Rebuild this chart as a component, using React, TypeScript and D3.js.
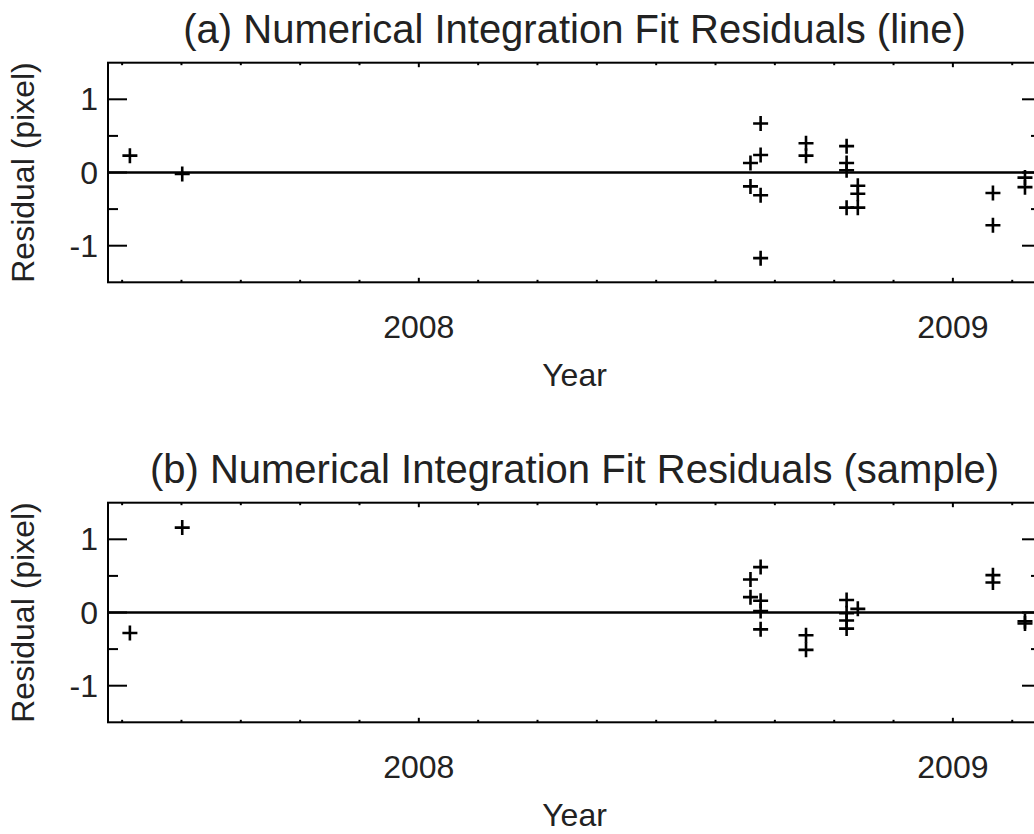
import React from 'react';
import * as d3 from 'd3';

// decimal years and residuals
const yearsLine = [2007.459, 2007.557, 2008.621, 2008.621, 2008.640, 2008.640, 2008.640, 2008.640,
  2008.725, 2008.725, 2008.801, 2008.801, 2008.801, 2008.801, 2008.822, 2008.822, 2008.822,
  2009.075, 2009.075, 2009.135, 2009.135];
const residLine = [0.23, -0.02, 0.13, -0.19, 0.67, 0.24, -0.31, -1.17,
  0.40, 0.23, 0.36, 0.13, 0.03, -0.48, -0.18, -0.29, -0.48,
  -0.28, -0.72, -0.07, -0.20];

const yearsSample = [2007.459, 2007.557, 2008.621, 2008.621, 2008.640, 2008.640, 2008.640, 2008.640,
  2008.725, 2008.725, 2008.801, 2008.801, 2008.801, 2008.801, 2008.822,
  2009.075, 2009.075, 2009.135, 2009.135];
const residSample = [-0.28, 1.16, 0.45, 0.21, 0.62, 0.16, 0.02, -0.23,
  -0.31, -0.51, 0.17, -0.01, -0.11, -0.22, 0.05,
  0.51, 0.41, -0.12, -0.15];

const titles = ['(a) Numerical Integration Fit Residuals (line)', '(b) Numerical Integration Fit Residuals (sample)'];
const yMajor = [-1, 0, 1];
const yMinor = [-0.5, 0.5];
const xMajor = [2008, 2009];
const xDomain = [2007.418, 2009.165];
const yDomain = [-1.5, 1.5];

const font = '"Liberation Sans", Arial, Helvetica, sans-serif';
const ink = '#222';

function Panel({ top, title, years, resid }) {
  const left = 108, right = 1041, height = 219.6;
  const x = d3.scaleLinear().domain(xDomain).range([left, right]);
  const y = d3.scaleLinear().domain(yDomain).range([top + height, top]);
  const xMinor = d3.range(0, 27).map(k => 2007 + k / 9)
    .filter(v => v > xDomain[0] && v < xDomain[1] && !xMajor.some(m => Math.abs(m - v) < 1e-6));
  const cx = (left + right) / 2;
  const pts = years.map((yr, i) => [x(yr), y(resid[i])]);

  return <g>
    <text x={cx} y={top - 20} textAnchor="middle" fontSize={40} fill={ink}>{title}</text>
    <rect x={left} y={top} width={right - left} height={height} fill="none" stroke="#000" strokeWidth={2} />
    <line x1={left} x2={right} y1={y(0)} y2={y(0)} stroke="#000" strokeWidth={2.5} />
    {yMajor.map(v => <g key={'ym' + v}>
      <line x1={left} x2={left + 19} y1={y(v)} y2={y(v)} stroke="#000" strokeWidth={2} />
      <line x1={right} x2={right - 19} y1={y(v)} y2={y(v)} stroke="#000" strokeWidth={2} />
      <text x={98} y={y(v) + 11} textAnchor="end" fontSize={32} fill={ink}>{v}</text>
    </g>)}
    {yMinor.map(v => <g key={'yn' + v}>
      <line x1={left} x2={left + 10} y1={y(v)} y2={y(v)} stroke="#000" strokeWidth={2} />
      <line x1={right} x2={right - 10} y1={y(v)} y2={y(v)} stroke="#000" strokeWidth={2} />
    </g>)}
    {xMajor.map(v => <g key={'xm' + v}>
      <line x1={x(v)} x2={x(v)} y1={top + height} y2={top + height - 4.5} stroke="#000" strokeWidth={2} />
      <line x1={x(v)} x2={x(v)} y1={top} y2={top + 4.5} stroke="#000" strokeWidth={2} />
      <text x={x(v)} y={top + height + 56} textAnchor="middle" fontSize={32} fill={ink}>{v}</text>
    </g>)}
    {xMinor.map(v => <g key={'xn' + v}>
      <line x1={x(v)} x2={x(v)} y1={top + height} y2={top + height - 2.5} stroke="#000" strokeWidth={2} />
      <line x1={x(v)} x2={x(v)} y1={top} y2={top + 2.5} stroke="#000" strokeWidth={2} />
    </g>)}
    <text x={cx} y={top + height + 104} textAnchor="middle" fontSize={32} fill={ink}>Year</text>
    <text transform={`translate(34,${top + height / 2}) rotate(-90)`} textAnchor="middle" fontSize={32} fill={ink}>Residual (pixel)</text>
    {pts.map((p, i) => <path key={i}
      d={`M${p[0] - 7.5},${p[1]}H${p[0] + 7.5}M${p[0]},${p[1] - 7.5}V${p[1] + 7.5}`}
      stroke="#000" strokeWidth={2.6} fill="none" />)}
  </g>;
}

export default function App() {
  return <div style={{ position: 'absolute', left: 0, top: 0 }}>
    <svg width={1034} height={834} style={{ display: 'block', background: '#fff', fontFamily: font }}>
      <Panel top={62.7} title={titles[0]} years={yearsLine} resid={residLine} />
      <Panel top={502.7} title={titles[1]} years={yearsSample} resid={residSample} />
    </svg>
  </div>;
}
